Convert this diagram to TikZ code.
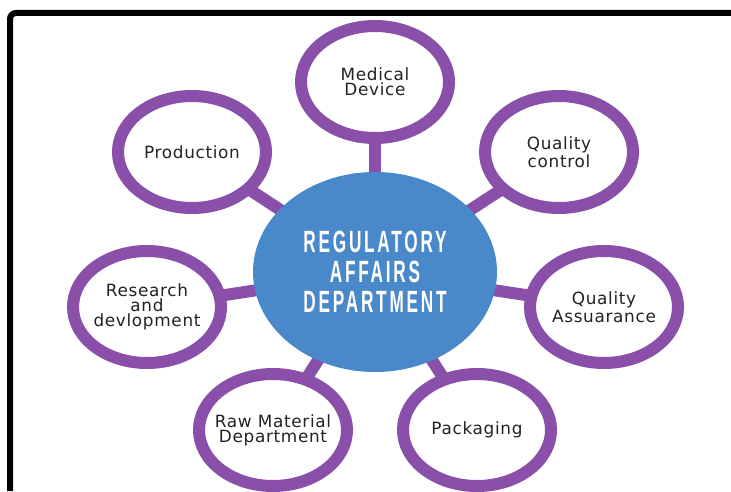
\documentclass[tikz,border=0pt]{standalone}
\usepackage{fontspec}
\setmainfont[LetterSpace=4]{DejaVu Sans}
\newfontfamily\condfont[FakeStretch=0.56, LetterSpace=9]{Liberation Sans}
\usetikzlibrary{shapes.geometric,backgrounds}

\definecolor{dept_blue}{HTML}{4A89C9}
\definecolor{ring_purple}{HTML}{8A4FA8}
\definecolor{label_gray}{HTML}{222222}

\begin{document}
\begin{tikzpicture}[
    area/.style={draw=ring_purple, line width=0.24cm, fill=white, ellipse,
        minimum width=2.96cm, minimum height=2.24cm, inner sep=-8pt,
        align=center, text=label_gray, font=\fontsize{9.6}{8.6}\selectfont},
    hub/.style={fill=dept_blue, ellipse, minimum width=4.88cm, minimum height=4cm,
        inner sep=0pt, align=center, text=white,
        font=\condfont\bfseries\fontsize{17.5}{17}\selectfont},
    link/.style={ring_purple, line width=0.24cm}
]
    \useasboundingbox (0,0) rectangle (14.62,-9.82);

    % Frame
    \draw[line width=0.12cm, rounded corners=0.12cm] (0.2,-9.82) -- (0.2,-0.26) -- (14.62,-0.26);

    % Department
    \node[hub] (reg_affairs) at (7.50,-5.44) {REGULATORY\\AFFAIRS\\DEPARTMENT};

    % Areas
    \node[area] (medical_device) at (7.50,-1.64) {Medical\\Device};
    \node[area] (production) at (3.84,-3.04) {Production};
    \node[area] (quality_control) at (11.18,-3.04) {Quality\\control};
    \node[area] (research) at (2.94,-6.14) {Research\\and\\devlopment};
    \node[area] (quality_assurance) at (12.08,-6.14) {Quality\\Assuarance};
    \node[area] (raw_material) at (5.46,-8.60) {Raw Material\\Department};
    \node[area] (packaging) at (9.54,-8.60) {Packaging};

    % Links
    \begin{scope}[on background layer]
        \foreach \n in {medical_device,production,quality_control,research,quality_assurance,raw_material,packaging}
            \draw[link] (reg_affairs.center) -- (\n.center);
    \end{scope}
\end{tikzpicture}
\end{document}
